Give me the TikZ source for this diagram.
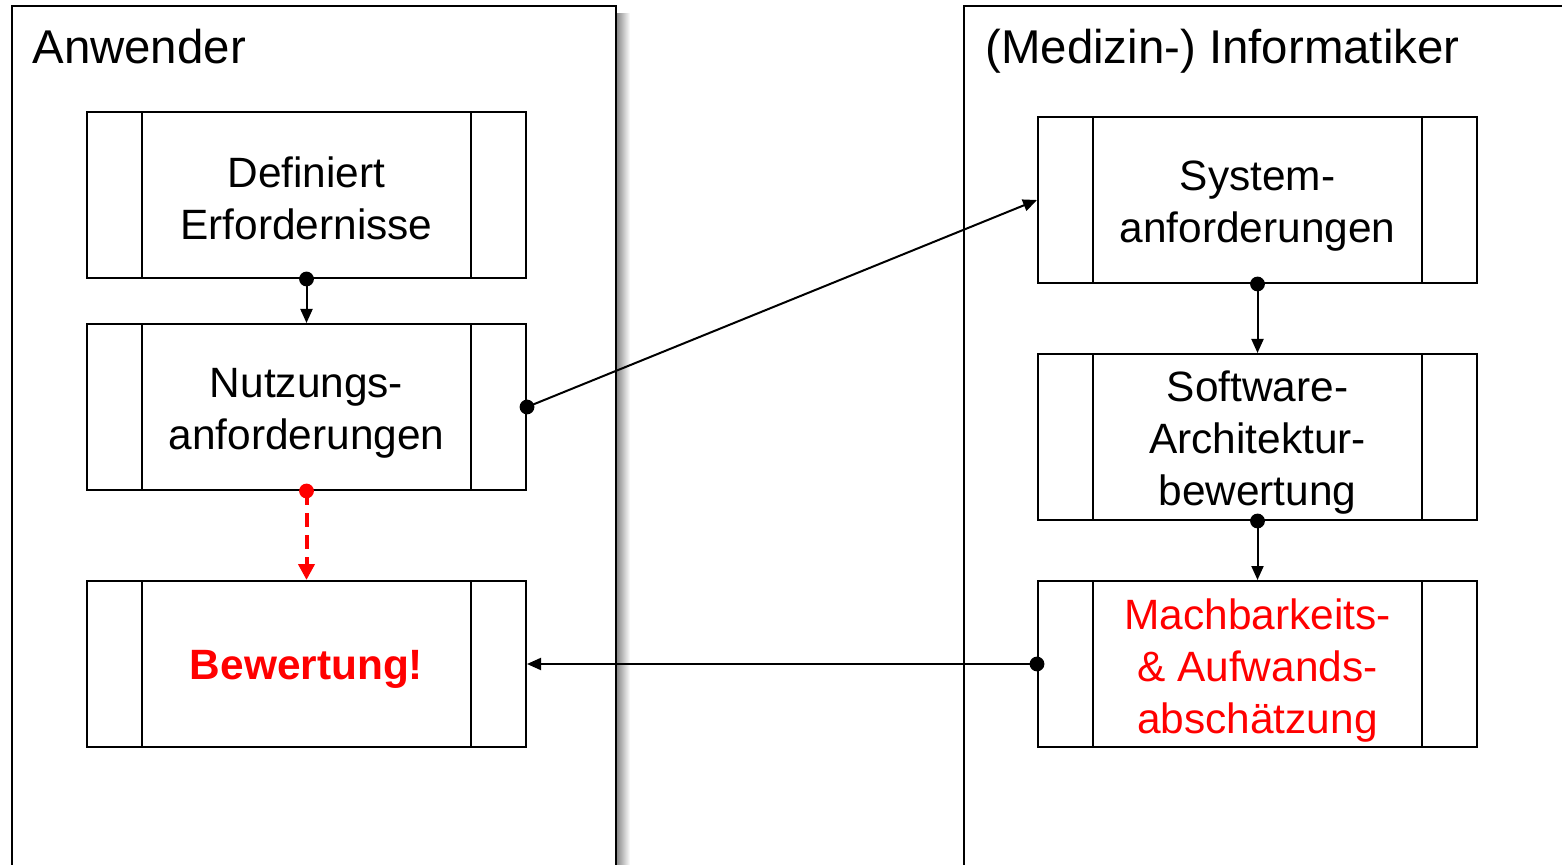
\documentclass[tikz,border=0pt]{standalone}
\usepackage{fontspec}
\setmainfont{Liberation Sans}
\usetikzlibrary{arrows.meta,calc}
\begin{document}
\begin{tikzpicture}[x=0.5pt,y=-0.5pt,
  lane/.style={line width=1.4pt},
  proc/.style={draw,line width=1pt,minimum width=219.5pt,minimum height=83pt,inner sep=0pt,
    path picture={\draw[line width=1pt] ($(path picture bounding box.north west)+(27.5pt,0)$) -- ($(path picture bounding box.south west)+(27.5pt,0)$);
                  \draw[line width=1pt] ($(path picture bounding box.north east)+(-27.5pt,0)$) -- ($(path picture bounding box.south east)+(-27.5pt,0)$);}},
  ptext/.style={inner sep=0pt,align=center,font=\fontsize{21.2pt}{26pt}\selectfont},
  title/.style={anchor=base west,inner sep=0pt,font=\fontsize{23.7pt}{28pt}\selectfont},
  conn/.style={line width=1pt,-{Triangle[length=7pt,width=6pt]}},
  redconn/.style={line width=2pt,red,dash pattern=on 7pt off 4pt,-{Triangle[length=8pt,width=8pt]}},
]
\useasboundingbox (0,0) rectangle (1562,865);
% shadow of left lane
\shade[left color=black!45,right color=white] (617,14) rectangle (630,865);
% lanes
\draw[lane,fill=white] (12,870) -- (12,6) -- (616,6) -- (616,870);
\draw[lane] (964,870) -- (964,6) -- (1570,6);
\node[title] (tA) at (32,64) {Anwender};
\node[title] (tB) at (985,64) {(Medizin-) Informatiker};
% process boxes
\node[proc] (b1) at (306.5,195) {};
\node[proc] (b2) at (306.5,407) {};
\node[proc] (b3) at (306.5,664) {};
\node[proc] (r1) at (1257.5,200) {};
\node[proc] (r2) at (1257.5,437) {};
\node[proc] (r3) at (1257.5,664) {};
\node[ptext] (b1t) at ([yshift=-1.5pt]b1.center) {Definiert\\Erfordernisse};
\node[ptext] (b2t) at ([yshift=-3pt]b2.center) {Nutzungs-\\anforderungen};
\node[ptext,text=red,font=\fontsize{21.2pt}{26pt}\selectfont\bfseries] (b3t) at ([yshift=-2.5pt]b3.center) {Bewertung!};
\node[ptext] (r1t) at ([yshift=-3pt]r1.center) {System-\\anforderungen};
\node[ptext] (r2t) at ([yshift=-3pt]r2.center) {Software-\\Architektur-\\bewertung};
\node[ptext,text=red] (r3t) at ([yshift=-3.5pt]r3.center) {Machbarkeits-\\\& Aufwands-\\abschätzung};
% connectors
\draw[conn] (b1.south) -- (b2.north);
\fill (b1.south) circle (3.7pt);
\draw[redconn] (b2.south) -- (b3.north);
\fill[red] (b2.south) circle (3.7pt);
\draw[conn] (b2.east) -- (r1.west);
\fill (b2.east) circle (3.7pt);
\draw[conn] (r1.south) -- (r2.north);
\fill (r1.south) circle (3.7pt);
\draw[conn] (r2.south) -- (r3.north);
\fill (r2.south) circle (3.7pt);
\draw[conn] (r3.west) -- (b3.east);
\fill (r3.west) circle (3.7pt);
\end{tikzpicture}
\end{document}
